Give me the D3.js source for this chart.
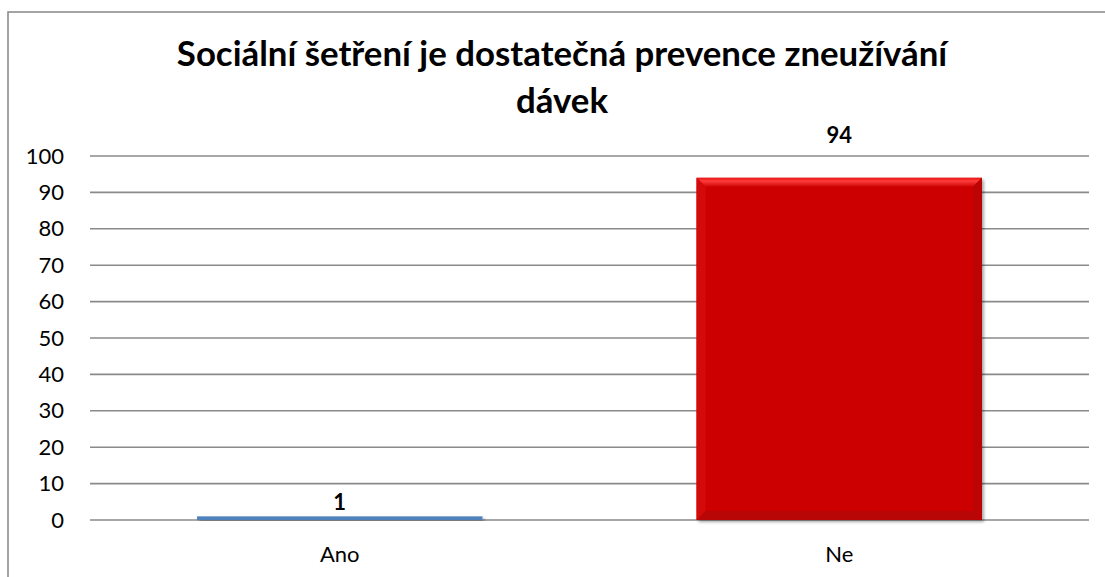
<!DOCTYPE html>
<html lang="cs">
<head>
<meta charset="utf-8">
<script src="https://cdn.jsdelivr.net/npm/d3@7"></script>
<style>
  html, body { margin: 0; padding: 0; background: #fff; }
  svg { display: block; }
  text { font-family: Lato, "Open Sans", sans-serif; fill: #000; }
</style>
</head>
<body>
<svg id="chart" width="1105" height="577"></svg>
<script>
// Chart data
const categories = ["Ano", "Ne"];
const values = [1, 94];
const yTicks = [0, 10, 20, 30, 40, 50, 60, 70, 80, 90, 100];
const titleLines = ["Sociální šetření je dostatečná prevence zneužívání", "dávek"];

const W = 1105, H = 577;
const plot = { left: 90, right: 1089, top: 156, bottom: 520 };

const svg = d3.select("#chart");

// Outer frame
svg.append("rect")
  .attr("x", 8).attr("y", 12)
  .attr("width", 1110).attr("height", 600)
  .attr("fill", "#fff")
  .attr("stroke", "#878787").attr("stroke-width", 1.5);

const x = d3.scaleBand()
  .domain(categories)
  .range([plot.left, plot.right])
  .paddingInner(0.75 / 1.75)
  .paddingOuter(0.75 / 1.75 / 2);

const y = d3.scaleLinear()
  .domain([0, 100])
  .range([plot.bottom, plot.top]);

const defs = svg.append("defs");
const shadow = defs.append("filter").attr("id", "shadow")
  .attr("x", "-5%").attr("y", "-5%").attr("width", "115%").attr("height", "120%");
shadow.append("feDropShadow")
  .attr("dx", 2).attr("dy", 2).attr("stdDeviation", 1.6)
  .attr("flood-color", "#000").attr("flood-opacity", 0.35);

const topGrad = defs.append("linearGradient").attr("id", "bevelTop")
  .attr("x1", 0).attr("y1", 0).attr("x2", 0).attr("y2", 1);
topGrad.append("stop").attr("offset", 0).attr("stop-color", "#e81515");
topGrad.append("stop").attr("offset", 0.35).attr("stop-color", "#ff3b3b");
topGrad.append("stop").attr("offset", 1).attr("stop-color", "#cc0505");

// Gridlines (the 0 line doubles as the category axis)
svg.append("g")
  .selectAll("line")
  .data(yTicks)
  .join("line")
  .attr("x1", plot.left).attr("x2", plot.right)
  .attr("y1", d => y(d)).attr("y2", d => y(d))
  .attr("stroke", "#8a8a8a").attr("stroke-width", 1.6);

// Value axis labels
const yAxis = d3.axisLeft(y).tickValues(yTicks).tickSize(0).tickPadding(0);
svg.append("g")
  .attr("transform", `translate(${plot.left - 26},0)`)
  .call(yAxis)
  .call(g => g.select(".domain").remove())
  .call(g => g.selectAll("text")
    .attr("font-family", "Lato, sans-serif")
    .attr("font-size", 22)
    .attr("fill", "#000"));

// Category labels
const xAxis = d3.axisBottom(x).tickSize(0).tickPadding(0);
svg.append("g")
  .attr("transform", `translate(0,${plot.bottom + 26})`)
  .call(xAxis)
  .call(g => g.select(".domain").remove())
  .call(g => g.selectAll("text")
    .attr("font-family", "Lato, sans-serif")
    .attr("font-size", 22)
    .attr("fill", "#000"));

const barColors = ["#4f81bd", "#cc0505"];
const data = categories.map((c, i) => ({ cat: c, value: values[i], color: barColors[i] }));

const bars = svg.append("g").selectAll("g.bar")
  .data(data)
  .join("g").attr("class", "bar");

bars.append("rect")
  .attr("x", d => x(d.cat))
  .attr("y", d => y(d.value))
  .attr("width", x.bandwidth())
  .attr("height", d => y(0) - y(d.value))
  .attr("fill", d => d.color)
  .attr("filter", "url(#shadow)");

// Bevel edges on tall bars
const bevel = 9;
const tall = bars.filter(d => y(0) - y(d.value) > 3 * bevel);
tall.append("path")
  .attr("d", d => {
    const x0 = x(d.cat), x1 = x0 + x.bandwidth(), y0 = y(d.value);
    return `M${x0},${y0}L${x1},${y0}L${x1 - bevel},${y0 + bevel}L${x0 + bevel},${y0 + bevel}Z`;
  })
  .attr("fill", "url(#bevelTop)");
tall.append("path")
  .attr("d", d => {
    const x0 = x(d.cat), y0 = y(d.value), yb = y(0);
    return `M${x0},${y0}L${x0 + bevel},${y0 + bevel}L${x0 + bevel},${yb - bevel}L${x0},${yb}Z`;
  })
  .attr("fill", "#d40a0a");
tall.append("path")
  .attr("d", d => {
    const x1 = x(d.cat) + x.bandwidth(), y0 = y(d.value), yb = y(0);
    return `M${x1},${y0}L${x1 - bevel},${y0 + bevel}L${x1 - bevel},${yb - bevel}L${x1},${yb}Z`;
  })
  .attr("fill", "#bd0404");
tall.append("path")
  .attr("d", d => {
    const x0 = x(d.cat), x1 = x0 + x.bandwidth(), yb = y(0);
    return `M${x0},${yb}L${x0 + bevel},${yb - bevel}L${x1 - bevel},${yb - bevel}L${x1},${yb}Z`;
  })
  .attr("fill", "#b80606");

// Value labels
bars.append("text")
  .attr("x", d => x(d.cat) + x.bandwidth() / 2)
  .attr("y", d => y(d.value) - (d.value > 50 ? 35 : 6))
  .attr("text-anchor", "middle")
  .attr("font-size", 22)
  .attr("font-weight", "bold")
  .text(d => d.value);

// Title
svg.append("text")
  .attr("x", 562)
  .attr("y", 66)
  .attr("text-anchor", "middle")
  .attr("font-size", 34.8)
  .attr("font-weight", "bold")
  .selectAll("tspan")
  .data(titleLines)
  .join("tspan")
  .attr("x", 562)
  .attr("dy", (d, i) => i === 0 ? 0 : 47)
  .text(d => d);
</script>
</body>
</html>
